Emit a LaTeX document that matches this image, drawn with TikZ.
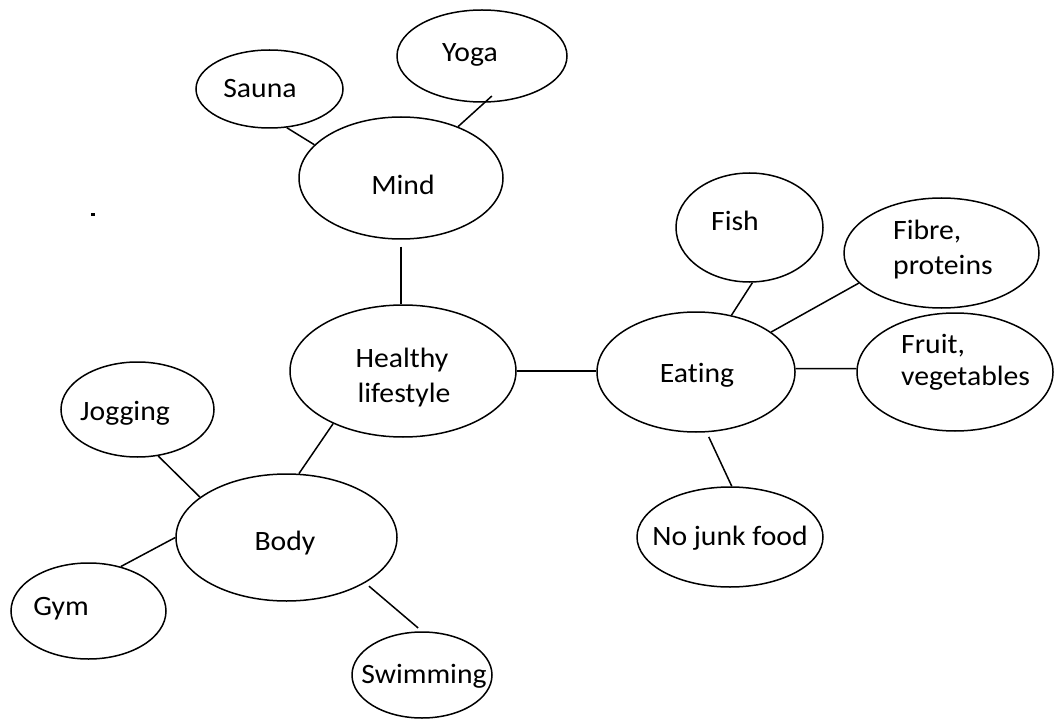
\documentclass[tikz,border=0pt]{standalone}
\usepackage{fontspec}
\setmainfont{Carlito}[RawFeature={-liga},FakeStretch=1.06]
\usetikzlibrary{shapes.geometric}
\begin{document}
\begin{tikzpicture}[x=1pt,y=-1pt,
  bub/.style={ellipse,draw,line width=1.5pt,inner sep=0pt},
  lab/.style={font=\fontsize{28}{34}\selectfont,inner sep=0pt,anchor=base},
  labl/.style={lab,anchor=base west},
  link/.style={line width=1.5pt}]
\useasboundingbox (0,0) rectangle (1054,719);
% bubbles
\node[bub,minimum width=170pt,minimum height=92pt]  (yoga)  at (482,56) {};
\node[bub,minimum width=147pt,minimum height=78pt]  (sauna) at (269.5,89) {};
\node[bub,minimum width=204pt,minimum height=122pt] (mind)  at (401,178) {};
\node[bub,minimum width=226pt,minimum height=132pt] (hl)    at (403,371) {};
\node[bub,minimum width=198pt,minimum height=120pt] (eat)   at (696,372) {};
\node[bub,minimum width=147pt,minimum height=109pt] (fish)  at (749.5,227.5) {};
\node[bub,minimum width=195pt,minimum height=110pt] (fibre) at (941.5,253) {};
\node[bub,minimum width=196pt,minimum height=118pt] (fruit) at (955,372) {};
\node[bub,minimum width=186pt,minimum height=100pt] (junk)  at (730,537) {};
\node[bub,minimum width=153pt,minimum height=95pt]  (jog)   at (137.5,409.5) {};
\node[bub,minimum width=221pt,minimum height=127pt] (body)  at (286.5,537.5) {};
\node[bub,minimum width=155pt,minimum height=96pt]  (gym)   at (88.5,611) {};
\node[bub,minimum width=140pt,minimum height=86pt]  (swim)  at (422,675) {};
% texts
\node[lab] (t-yoga)  at (470,62)  {Yoga};
\node[lab] (t-sauna) at (260,98)  {Sauna};
\node[lab] (t-mind)  at (403,195) {Mind};
\node[lab] (t-hl1)   at (402,367) {Healthy};
\node[lab] (t-hl2)   at (404,402) {lifestyle};
\node[lab] (t-eat)   at (697,382) {Eating};
\node[lab] (t-fish)  at (735,231) {Fish};
\node[labl] (t-fib1) at (893,240) {Fibre,};
\node[labl] (t-fib2) at (893,275) {proteins};
\node[labl] (t-fru1) at (901,353) {Fruit,};
\node[labl] (t-fru2) at (901,385) {vegetables};
\node[lab] (t-junk)  at (730,545) {No junk food};
\node[lab] (t-jog)   at (125,420) {Jogging};
\node[lab] (t-body)  at (285,550) {Body};
\node[lab] (t-gym)   at (61,615)  {Gym};
\node[lab] (t-swim)  at (424,683) {Swimming};
% links
\draw[link] (sauna.-66) -- (mind.159);
\draw[link,shorten <=-10pt] (yoga.-87) -- (mind.42);
\draw[link,shorten <=7pt] (mind.south) -- (mind.south |- hl.north);
\draw[link] (hl.east) -- (hl.east -| eat.west);
\draw[link] (fish.-87) -- (eat.58);
\draw[link] (fibre.200) -- (eat.28);
\draw[link] (eat.2) -- (fruit.178);
\draw[link,shorten <=5pt] (eat.-80) -- (junk.88);
\draw[link] (hl.217) -- (body.79);
\draw[link] (jog.-66) -- (body.155);
\draw[link] (gym.54) -- (body.180);
\draw[link,shorten <=5pt,shorten >=5pt] (body.-30) -- (swim.90);
% stray dot
\fill (91,213) rectangle (95,216);
\end{tikzpicture}
\end{document}
